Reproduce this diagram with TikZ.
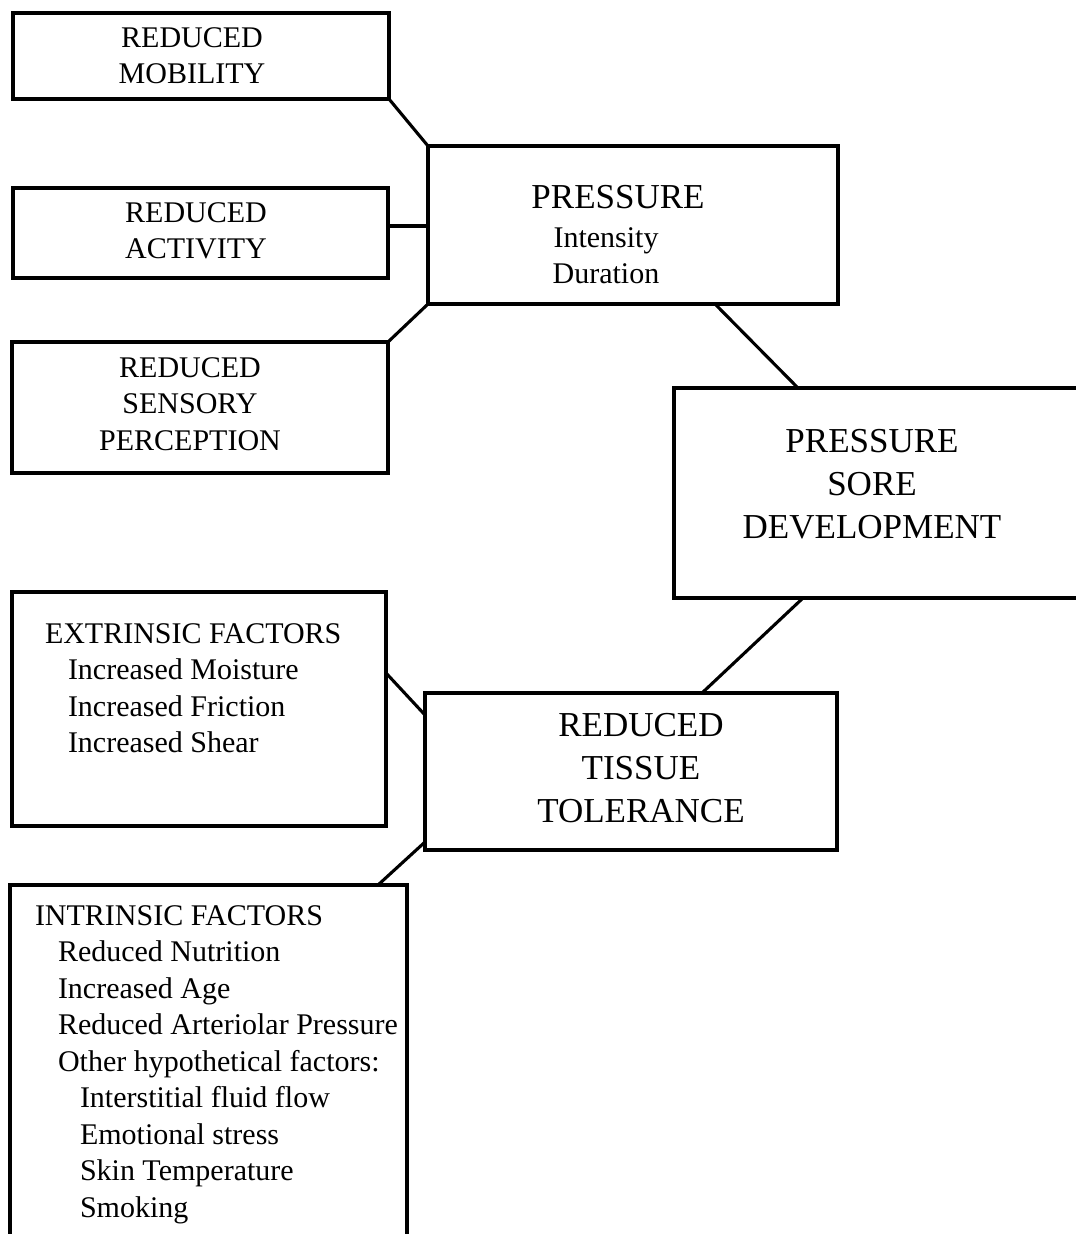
\documentclass[tikz,border=0pt]{standalone}
\usepackage{fontspec}
\setmainfont{Liberation Serif}
\newcommand\ctrlines[1]{\vtop{\halign{\hfil##\hfil\cr#1\crcr}}}
\newcommand\leftlines[1]{\vtop{\halign{##\hfil\cr#1\crcr}}}
\newcommand\smallfnt{\fontsize{30}{36.5}\selectfont}
\newcommand\bigfnt{\fontsize{35}{43}\selectfont}
\begin{document}
\begin{tikzpicture}[x=1pt,y=-1pt,
  box/.style={draw, line width=3.3pt, inner sep=0pt, outer sep=0pt, anchor=north west},
  conn/.style={line width=3.1pt},
  txt/.style={inner sep=0pt, outer sep=0pt, anchor=base},
  ltxt/.style={inner sep=0pt, outer sep=0pt, anchor=base west}]
\useasboundingbox (0,0) rectangle (1076,1234);
\clip (0,0) rectangle (1076,1234);
\fill[white] (0,0) rectangle (1076,1234);
% boxes
\node[box, minimum width=376pt, minimum height=86pt] (mob) at (13,13) {};
\node[box, minimum width=375pt, minimum height=90pt] (act) at (13,188) {};
\node[box, minimum width=376pt, minimum height=131pt] (sen) at (12,342) {};
\node[box, minimum width=410pt, minimum height=158pt] (pres) at (428,146) {};
\node[box, minimum width=420pt, minimum height=210pt] (sore) at (674,388) {};
\node[box, minimum width=374pt, minimum height=234pt] (ext) at (12,592) {};
\node[box, minimum width=412pt, minimum height=157pt] (tis) at (425,693) {};
\node[box, minimum width=397pt, minimum height=380pt] (intr) at (10,885) {};
% connectors
\coordinate (actc) at ([yshift=7pt]act.east);
\draw[conn] (mob.south east) -- (pres.north west);
\draw[conn] (actc) -- (actc -| pres.west);
\draw[conn] (sen.north east) -- (pres.south west);
\draw[conn] ([xshift=287pt]pres.south west) -- ([xshift=124pt]sore.north west);
\draw[conn] ([xshift=129pt]sore.south west) -- ([xshift=277pt]tis.north west);
\draw[conn] ([yshift=-81pt]ext.north east) -- ([yshift=-22pt]tis.north west);
\draw[conn] ([yshift=8pt]tis.south west) -- ([xshift=-29pt]intr.north east);
% texts
\node[txt, font=\smallfnt] (tmob) at (192,47) {\ctrlines{REDUCED\cr MOBILITY}};
\node[txt, font=\smallfnt] (tact) at (196,222) {\ctrlines{REDUCED\cr ACTIVITY}};
\node[txt, font=\smallfnt] (tsen) at (190,377) {\ctrlines{REDUCED\cr SENSORY\cr PERCEPTION}};
\node[txt, font=\bigfnt] (tpres) at (618,208) {PRESSURE};
\node[txt, font=\smallfnt] (tpres2) at (606,247) {\ctrlines{Intensity\cr Duration}};
\node[txt, font=\bigfnt] (tsore) at (872,452) {\ctrlines{PRESSURE\cr SORE\cr DEVELOPMENT}};
\node[txt, font=\bigfnt] (ttis) at (641,736) {\ctrlines{REDUCED\cr TISSUE\cr TOLERANCE}};
\node[ltxt, font=\smallfnt] (text) at (45,643) {\leftlines{EXTRINSIC FACTORS\cr
  \kern23pt Increased Moisture\cr
  \kern23pt Increased Friction\cr
  \kern23pt Increased Shear}};
\node[ltxt, font=\smallfnt] (tintr) at (35,925) {\leftlines{INTRINSIC FACTORS\cr
  \kern23pt Reduced Nutrition\cr
  \kern23pt Increased Age\cr
  \kern23pt Reduced Arteriolar Pressure\cr
  \kern23pt Other hypothetical factors:\cr
  \kern45pt Interstitial fluid flow\cr
  \kern45pt Emotional stress\cr
  \kern45pt Skin Temperature\cr
  \kern45pt Smoking}};
\end{tikzpicture}
\end{document}
